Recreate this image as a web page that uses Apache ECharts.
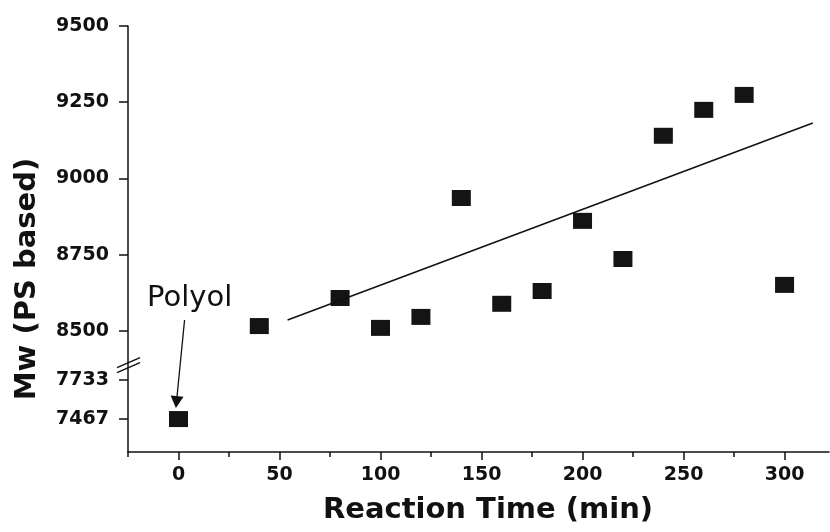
<!DOCTYPE html>
<html>
<head>
<meta charset="utf-8">
<script src="https://cdn.jsdelivr.net/npm/echarts@6/dist/echarts.min.js"></script>
<style>
  html, body { margin: 0; padding: 0; background: #fff; }
  #main { width: 830px; height: 532px; }
</style>
</head>
<body>
<div id="main"></div>
<script>
// 反应时间 (min)
var times = [0, 40, 80, 100, 120, 140, 160, 180, 200, 220, 240, 260, 280, 300];
// Mw 值
var mwValues = [7467, 8516, 8608, 8510, 8546, 8936, 8589, 8631, 8861, 8736, 9140, 9225, 9274, 8651];
// 拟合直线两端点
var fitTimes = [54, 314];
var fitValues = [8536, 9182];
// 坐标轴刻度
var xTickLabels = [0, 50, 100, 150, 200, 250, 300];
var xMinorTicks = [-25, 25, 75, 125, 175, 225, 275];
var yTickLabels = [7467, 7733, 8500, 8750, 9000, 9250, 9500];

// 断轴: 8500 以下压缩
function toAxis(v) {
    if (v >= 8500) return v;
    return 8211 + (v - 7467) * (8339 - 8211) / (7733 - 7467);
}
var yTickAxis = yTickLabels.map(toAxis);

var font = 'DejaVu Sans';
var myChart = echarts.init(document.getElementById('main'));

var option = {
    backgroundColor: '#fff',
    animation: false,
    grid: { left: 128, right: 1, top: 26, bottom: 80 },
    xAxis: [
        {
            type: 'value', min: -25, max: 322,
            axisLine: { onZero: false, lineStyle: { color: '#111', width: 1.5 } },
            axisTick: { customValues: xTickLabels, length: 8, lineStyle: { color: '#111', width: 1.5 } },
            axisLabel: { customValues: xTickLabels, margin: 14, color: '#111', fontFamily: font, fontWeight: 'bold', fontSize: 19 },
            splitLine: { show: false }
        },
        {
            type: 'value', min: -25, max: 322, position: 'bottom',
            axisLine: { show: false, onZero: false },
            axisTick: { customValues: xMinorTicks, length: 5, lineStyle: { color: '#111', width: 1.5 } },
            axisLabel: { show: false },
            splitLine: { show: false }
        }
    ],
    yAxis: {
        type: 'value', min: 8103, max: 9500,
        axisLine: { show: true, onZero: false, lineStyle: { color: '#111', width: 1.5 } },
        axisTick: { show: true, customValues: yTickAxis, length: 9, lineStyle: { color: '#111', width: 1.5 } },
        axisLabel: {
            customValues: yTickAxis, margin: 19, color: '#111', fontFamily: font, fontWeight: 'bold', fontSize: 19,
            formatter: function (t) {
                var best = 0;
                for (var i = 1; i < yTickAxis.length; i++) {
                    if (Math.abs(yTickAxis[i] - t) < Math.abs(yTickAxis[best] - t)) best = i;
                }
                return String(yTickLabels[best]);
            }
        },
        splitLine: { show: false }
    },
    series: [
        {
            type: 'scatter',
            symbol: 'rect',
            symbolSize: [19, 16],
            itemStyle: { color: '#141414', opacity: 1 },
            data: times.map(function (t, i) { return [t, toAxis(mwValues[i])]; }),
            markLine: {
                silent: true,
                symbol: ['none', 'triangle'],
                symbolSize: [13, 12],
                label: { show: false },
                lineStyle: { color: '#111', width: 1.3, type: 'solid' },
                data: [[{ coord: [3, toAxis(8536)] }, { coord: [-1, toAxis(7583)] }]]
            },
            markPoint: {
                silent: true,
                symbolSize: 0,
                label: { show: true, position: 'inside', formatter: 'Polyol', color: '#111', fontFamily: font, fontSize: 29 },
                data: [{ coord: [5.5, toAxis(8608)] }]
            }
        },
        {
            type: 'line',
            showSymbol: false,
            lineStyle: { color: '#111', width: 1.5 },
            data: fitTimes.map(function (t, i) { return [t, fitValues[i]]; })
        }
    ]
};

myChart.setOption(option);

// 断轴标记和坐标轴标题
var bp = myChart.convertToPixel({ gridIndex: 0 }, [-25, 8388]);
myChart.setOption({
    graphic: [
        { type: 'line', shape: { x1: bp[0] - 11, y1: bp[1] + 7.5, x2: bp[0] + 12, y2: bp[1] - 2.5 }, style: { stroke: '#111', lineWidth: 1.5 } },
        { type: 'line', shape: { x1: bp[0] - 11, y1: bp[1] + 2.5, x2: bp[0] + 12, y2: bp[1] - 7.5 }, style: { stroke: '#111', lineWidth: 1.5 } },
        {
            type: 'text', x: 488, y: 510,
            style: { text: 'Reaction Time (min)', font: 'bold 29px "DejaVu Sans"', fill: '#111', textAlign: 'center', textVerticalAlign: 'middle' }
        },
        {
            type: 'text', x: 27, y: 279, rotation: Math.PI / 2,
            style: { text: 'Mw (PS based)', font: 'bold 29px "DejaVu Sans"', fill: '#111', textAlign: 'center', textVerticalAlign: 'middle' }
        }
    ]
});

window.addEventListener('resize', function () {
    myChart.resize();
});
</script>
</body>
</html>
